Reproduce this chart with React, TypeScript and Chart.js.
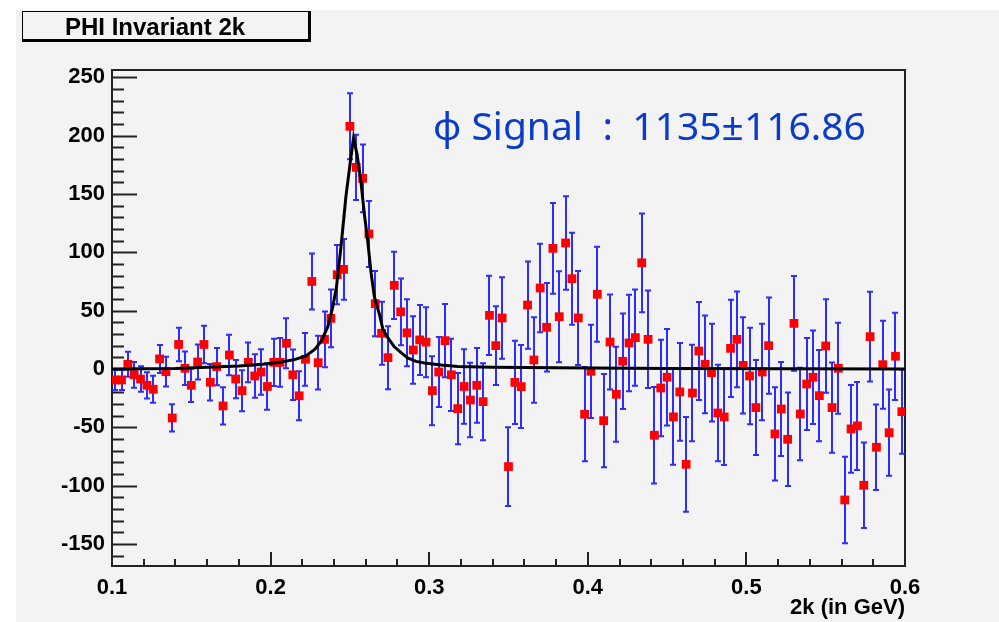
import React, { useEffect, useRef } from "react";
import { Chart, registerables } from "chart.js";

Chart.register(...registerables);

// ---- Histogram binning ----
const BIN_LOW = 0.1;
const BIN_WIDTH = 0.004;

// ---- Data (bin contents) ----
const counts = [
  -9.4, -9.4, 4.0, -5.0, -8.6, -14.0, -17.4, 8.6, -2.3, -42.0,
  21.0, 0.6, -14.0, 6.0, 21.0, -11.4, 2.0, -31.7, 12.0, -8.6,
  -18.6, 5.7, -6.0, -2.6, -15.0, 5.7, 5.7, 22.0, -5.0, -23.0,
  8.3, 75.0, 5.4, 25.4, 43.4, 80.8, 85.4, 208.0, 172.8, 163.4,
  115.7, 56.0, 30.6, 9.7, 71.7, 49.0, 31.0, 16.3, 24.9, 23.0,
  -18.6, -2.6, 24.3, -5.0, -34.0, -15.0, -26.6, -14.0, -28.0, 46.0,
  20.0, 43.7, -83.7, -11.5, -15.1, 54.8, 7.7, 69.4, 35.7, 103.4,
  44.8, 108.0, 77.4, 43.7, -38.8, -2.0, 64.0, -44.3, 23.1, -21.7,
  6.6, 22.3, 26.9, 91.0, 25.4, -56.8, -16.3, -7.1, -41.1, -19.7,
  -81.7, -20.6, 15.4, 4.0, -3.1, -37.7, -41.1, 17.7, 25.4, 3.1,
  -6.0, -33.1, -2.6, 20.0, -55.7, -34.3, -60.3, 39.1, -38.6, -12.9,
  -7.1, -22.9, 19.7, -33.1, 0.6, -112.3, -51.4, -48.8, -99.7, 27.7,
  -67.1, 3.7, -54.6, 10.9, -36.6,
];

// ---- Errors (half length of error bars) ----
const errors = [
  8.6, 8.6, 10.7, 11.0, 11.0, 11.3, 11.6, 12.0, 12.7, 11.7,
  14.3, 14.3, 14.3, 15.0, 16.0, 15.7, 16.0, 16.0, 17.4, 16.4,
  17.6, 17.0, 18.7, 19.6, 20.0, 20.3, 20.9, 21.4, 21.7, 21.0,
  22.6, 24.0, 23.0, 23.9, 24.7, 25.4, 26.0, 28.3, 27.9, 29.0,
  28.3, 28.0, 27.0, 27.0, 28.9, 28.6, 28.7, 29.0, 30.0, 30.0,
  29.6, 30.0, 31.4, 31.0, 30.6, 32.0, 32.0, 32.0, 33.0, 34.0,
  33.7, 35.0, 33.7, 35.7, 35.6, 37.4, 36.7, 38.0, 37.9, 38.9,
  39.0, 40.0, 39.4, 40.3, 40.4, 40.0, 40.7, 40.0, 40.7, 40.7,
  41.0, 41.3, 41.3, 42.3, 41.8, 41.4, 41.3, 41.3, 41.0, 41.9,
  40.6, 41.3, 42.0, 41.9, 41.9, 41.3, 41.3, 41.7, 41.1, 41.3,
  41.3, 40.7, 41.3, 41.3, 40.0, 40.3, 40.1, 40.7, 39.6, 39.4,
  40.1, 39.1, 40.0, 38.7, 39.0, 37.1, 37.6, 37.7, 36.6, 38.4,
  36.6, 37.7, 36.9, 37.4, 36.1,
];

// ---- Fit curve ----
const fitX = [
  0.1, 0.14, 0.16, 0.18, 0.195, 0.205, 0.215, 0.222, 0.228, 0.232,
  0.236, 0.239, 0.2415, 0.2444, 0.2475, 0.2505, 0.2523, 0.2545, 0.257, 0.2591,
  0.2612, 0.2633, 0.2654, 0.2686, 0.2708, 0.2738, 0.278, 0.2823, 0.2864, 0.2917,
  0.297, 0.3075, 0.318, 0.34, 0.38, 0.45, 0.6,
];
const fitY = [
  0.0, 0.5, 1.5, 2.5, 4.0, 5.5, 8.0, 11.0, 17.0, 24.0,
  36.0, 52.0, 70.0, 105.0, 148.0, 180.0, 198.0, 184.0, 160.0, 133.0,
  110.0, 83.0, 62.0, 47.0, 34.0, 27.0, 19.0, 14.0, 9.5, 6.5,
  5.2, 3.5, 2.2, 1.5, 1.0, 0.5, 0.0,
];

// ---- Axes ----
const X_MIN = 0.1;
const X_MAX = 0.6;
const Y_MIN = -168.9;
const Y_MAX = 256.3;
const X_MAJOR_STEP = 0.1;
const X_MINOR_STEP = 0.02;
const Y_MAJOR_STEP = 50;
const Y_MINOR_STEP = 10;

// ---- Texts ----
const TITLE = "PHI Invariant 2k";
const X_TITLE = "2k (in GeV)";
const SIGNAL_TEXT = "\u03d5 Signal\u2002:\u20021135\u00b1116.86";

const FONT = '"Liberation Sans", Arial, Helvetica, sans-serif';
const BG = "#f3f3f3";

const rootStylePlugin = {
  id: "rootStyle",
  beforeDraw(chart: any) {
    const ctx = chart.ctx;
    ctx.save();
    ctx.fillStyle = "#ffffff";
    ctx.fillRect(0, 0, chart.width, chart.height);
    ctx.fillStyle = BG;
    ctx.fillRect(16, 10, chart.width - 16, chart.height - 10);
    // title box
    ctx.fillStyle = "#000";
    ctx.fillRect(22, 11, 289, 31);
    ctx.fillStyle = BG;
    ctx.fillRect(23, 12, 285, 27);
    ctx.fillStyle = "#000";
    ctx.font = `bold 24px ${FONT}`;
    ctx.textBaseline = "alphabetic";
    ctx.textAlign = "left";
    ctx.fillText(TITLE, 65, 35);
    ctx.restore();
  },
  beforeDatasetsDraw(chart: any) {
    const ctx = chart.ctx;
    const xs = chart.scales.x;
    const ys = chart.scales.y;
    const { left, right, top, bottom } = chart.chartArea;
    ctx.save();
    ctx.strokeStyle = "#222";
    ctx.lineWidth = 2;
    // y ticks (inward)
    const yStart = Math.ceil(Y_MIN / Y_MINOR_STEP) * Y_MINOR_STEP;
    for (let v = yStart; v <= Y_MAX + 1e-9; v += Y_MINOR_STEP) {
      const isMajor = Math.abs(v / Y_MAJOR_STEP - Math.round(v / Y_MAJOR_STEP)) < 1e-6;
      const py = Math.round(ys.getPixelForValue(v)) + 0.5;
      ctx.beginPath();
      ctx.moveTo(left, py);
      ctx.lineTo(left + (isMajor ? 25 : 12), py);
      ctx.stroke();
    }
    // x ticks (inward)
    const nx = Math.round((X_MAX - X_MIN) / X_MINOR_STEP);
    for (let k = 0; k <= nx; k++) {
      const v = X_MIN + k * X_MINOR_STEP;
      const isMajor = k % Math.round(X_MAJOR_STEP / X_MINOR_STEP) === 0;
      const px = Math.round(xs.getPixelForValue(v));
      ctx.beginPath();
      ctx.moveTo(px, bottom);
      ctx.lineTo(px, bottom - (isMajor ? 14 : 7));
      ctx.stroke();
    }
    // frame
    ctx.strokeRect(left, top, right - left, bottom - top);

    // error bars
    const meta = chart.getDatasetMeta(1);
    ctx.strokeStyle = "#2d2dff";
    ctx.lineWidth = 2;
    meta.data.forEach((pt: any, i: number) => {
      const v = counts[i];
      const e = errors[i];
      const px = Math.round(pt.x);
      const y1 = ys.getPixelForValue(v + e);
      const y2 = ys.getPixelForValue(v - e);
      ctx.beginPath();
      ctx.moveTo(px, y1);
      ctx.lineTo(px, y2);
      ctx.moveTo(px - 3, y1);
      ctx.lineTo(px + 3, y1);
      ctx.moveTo(px - 3, y2);
      ctx.lineTo(px + 3, y2);
      ctx.stroke();
    });
    ctx.restore();
  },
  afterDraw(chart: any) {
    const ctx = chart.ctx;
    ctx.save();
    ctx.fillStyle = "#0a3ccc";
    ctx.font = '39px "Noto Sans", sans-serif';
    ctx.textAlign = "left";
    ctx.textBaseline = "alphabetic";
    ctx.fillText(SIGNAL_TEXT, 433, 140);
    ctx.restore();
  },
};

export default function App() {
  const canvasRef = useRef<HTMLCanvasElement | null>(null);

  useEffect(() => {
    if (!canvasRef.current) return;
    const pointData = counts.map((y, i) => ({ x: BIN_LOW + BIN_WIDTH * (i + 0.5), y }));
    const fitData = fitX.map((x, i) => ({ x, y: fitY[i] }));
    const tickFont = { family: FONT, size: 22, weight: "bold" as const };

    const chart = new Chart(canvasRef.current, {
      type: "scatter",
      data: {
        datasets: [
          {
            type: "line",
            label: "fit",
            data: fitData,
            borderColor: "#000",
            borderWidth: 3,
            pointRadius: 0,
            tension: 0,
            fill: false,
            order: 0,
          } as any,
          {
            type: "scatter",
            label: "data",
            data: pointData,
            pointStyle: "rect",
            pointRadius: 6.2,
            pointHoverRadius: 6.2,
            backgroundColor: "#ff0000",
            borderWidth: 0,
            order: 1,
          } as any,
        ],
      },
      options: {
        animation: false,
        responsive: false,
        devicePixelRatio: 1,
        events: [],
        layout: { padding: { top: 70, right: 94, left: 0, bottom: 0 } },
        plugins: {
          legend: { display: false },
          tooltip: { enabled: false },
          title: { display: false },
        },
        scales: {
          x: {
            type: "linear",
            min: X_MIN,
            max: X_MAX,
            afterFit: (s: any) => {
              s.height = 56;
            },
            grid: { display: false, drawTicks: false },
            border: { display: false },
            ticks: {
              stepSize: X_MAJOR_STEP,
              includeBounds: false,
              autoSkip: false,
              maxRotation: 0,
              padding: 9,
              color: "#000",
              font: tickFont,
              callback: (v: any) => Number(v).toFixed(1),
            },
            title: {
              display: true,
              text: X_TITLE,
              align: "end",
              color: "#000",
              font: tickFont,
              padding: { top: 0, bottom: 1 },
            },
          },
          y: {
            type: "linear",
            min: Y_MIN,
            max: Y_MAX,
            afterFit: (s: any) => {
              s.width = 112;
            },
            grid: { display: false, drawTicks: false },
            border: { display: false },
            ticks: {
              stepSize: Y_MAJOR_STEP,
              includeBounds: false,
              autoSkip: false,
              padding: 7,
              color: "#000",
              font: tickFont,
              callback: (v: any) => String(Math.round(Number(v))),
            },
          },
        },
      } as any,
      plugins: [rootStylePlugin],
    });
    return () => chart.destroy();
  }, []);

  return (
    <div style={{ position: "fixed", left: 0, top: 0, width: 999, height: 622 }}>
      <canvas ref={canvasRef} width={999} height={622} style={{ display: "block" }} />
    </div>
  );
}
